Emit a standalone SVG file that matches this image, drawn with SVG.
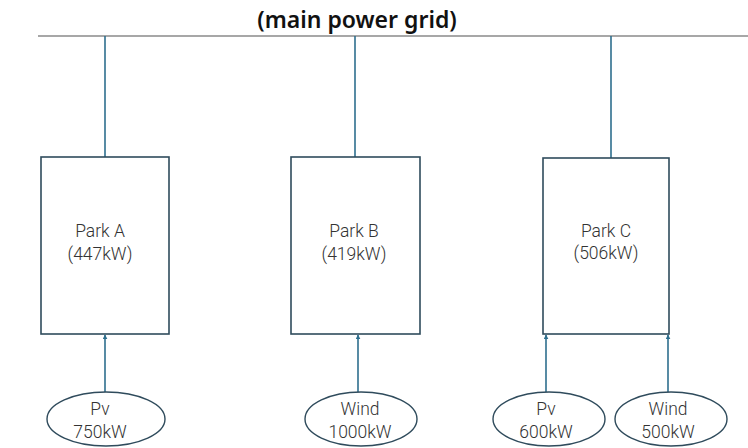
<svg xmlns="http://www.w3.org/2000/svg" width="748" height="448" viewBox="0 0 748 448">
<style>
.box{fill:#fff;stroke:#2f4b5c;stroke-width:1.6}
.ell{fill:#fff;stroke:#2f4b5c;stroke-width:1.4}
.lbl{font-family:Roboto,"Liberation Sans",sans-serif;font-weight:300;font-size:17.5px;fill:#333;text-anchor:middle}
.con{stroke:#2e6f8e;stroke-width:1.6;fill:none}
.title{font-family:"Noto Sans","Liberation Sans",sans-serif;font-weight:600;font-size:23px;fill:#111;text-anchor:middle}
</style>
<defs>
<marker id="ah" viewBox="0 0 8 8" refX="7" refY="4" markerWidth="5" markerHeight="5" orient="auto" markerUnits="userSpaceOnUse">
<path d="M0,0 L8,4 L0,8 z" fill="#2e6f8e"/>
</marker>
</defs>
<rect width="748" height="448" fill="#fff"/>
<g id="grid">
<line x1="38" y1="36" x2="748" y2="36" stroke="#8a8a8a" stroke-width="1.6"/>
<text class="title" x="357" y="28">(main power grid)</text>
</g>
<g id="connectors">
<line class="con" x1="105" y1="36" x2="105" y2="157"/>
<line class="con" x1="355" y1="36" x2="355" y2="157"/>
<line class="con" x1="611" y1="36" x2="611" y2="158"/>
<line class="con" x1="105" y1="392" x2="105" y2="335" marker-end="url(#ah)"/>
<line class="con" x1="358" y1="392" x2="358" y2="335" marker-end="url(#ah)"/>
<line class="con" x1="546" y1="392" x2="546" y2="335" marker-end="url(#ah)"/>
<line class="con" x1="668" y1="392" x2="668" y2="335" marker-end="url(#ah)"/>
</g>
<g id="parkA">
<rect class="box" x="41" y="157" width="128" height="177"/>
<text class="lbl" x="100" y="237">Park A</text>
<text class="lbl" x="100" y="260">(447kW)</text>
</g>
<g id="parkB">
<rect class="box" x="291" y="157" width="129" height="177"/>
<text class="lbl" x="354" y="237">Park B</text>
<text class="lbl" x="354" y="260">(419kW)</text>
</g>
<g id="parkC">
<rect class="box" x="543" y="158" width="126" height="176"/>
<text class="lbl" x="606" y="237">Park C</text>
<text class="lbl" x="606" y="259">(506kW)</text>
</g>
<g id="pvA">
<ellipse class="ell" cx="106" cy="419" rx="59" ry="27"/>
<text class="lbl" x="100" y="415">Pv</text>
<text class="lbl" x="100" y="438">750kW</text>
</g>
<g id="windB">
<ellipse class="ell" cx="361" cy="419" rx="56" ry="27"/>
<text class="lbl" x="360" y="415">Wind</text>
<text class="lbl" x="360" y="438">1000kW</text>
</g>
<g id="pvC">
<ellipse class="ell" cx="549" cy="419" rx="56" ry="27"/>
<text class="lbl" x="546" y="415">Pv</text>
<text class="lbl" x="546" y="438">600kW</text>
</g>
<g id="windC">
<ellipse class="ell" cx="671" cy="419" rx="56" ry="27"/>
<text class="lbl" x="668" y="415">Wind</text>
<text class="lbl" x="668" y="438">500kW</text>
</g>
</svg>
